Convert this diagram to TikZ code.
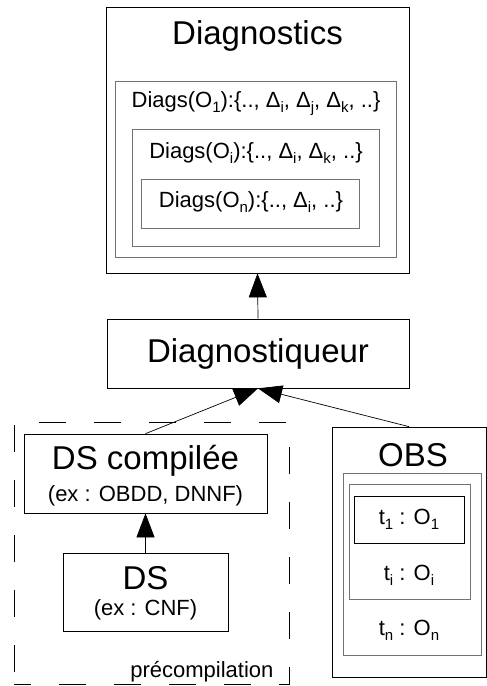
\documentclass[tikz,border=0pt]{standalone}
\usepackage{fontspec}
\setmainfont{Liberation Sans}
\usetikzlibrary{arrows.meta}
\newcommand{\lo}[1]{\raisebox{-5pt}{\fontsize{15}{15}\selectfont #1}}
\tikzset{
    box/.style 2 args={draw, inner sep=0pt, line width=0.7pt, minimum width=#1, minimum height=#2},
    subbox/.style 2 args={box={#1}{#2}, draw=black!55, line width=1pt},
    flow/.style={-{Triangle[length=24pt,width=18pt]}, line width=0.7pt},
    big/.style={font=\fontsize{33}{38}\selectfont},
    small/.style={font=\fontsize{22}{26}\selectfont},
}

\begin{document}
\begin{tikzpicture}[x=1pt,y=-1pt]
    \useasboundingbox (0,0) rectangle (487,686);
    % diagnostics
    \node[box={303pt}{266pt}] (diag) at (257.5,140) {};
    \node[big] (diagt) at (257.5,36) {Diagnostics};
    \node[subbox={281pt}{176pt}] (d1) at (255.5,169) {};
    \node[small] (d1t) at (256,104) {Diags(O\lo{1}):\{.., Δ\lo{i}, Δ\lo{j}, Δ\lo{k}, ..\}};
    \node[subbox={247pt}{117pt}] (d2) at (255.5,187.5) {};
    \node[small] (d2t) at (256,153) {Diags(O\lo{i}):\{.., Δ\lo{i}, Δ\lo{k}, ..\}};
    \node[subbox={218pt}{49pt}] (d3) at (250,203.5) {};
    \node[small] (d3t) at (251,202) {Diags(O\lo{n}):\{.., Δ\lo{i}, ..\}};
    % diagnostiqueur
    \node[box={302pt}{69pt}, big] (diagq) at (258,353.5) {Diagnostiqueur};
    % precompilation
    \node[box={275pt}{262pt}, dash pattern=on 27pt off 28pt, dash phase=10pt] (pre) at (151.5,553) {};
    \node[small, anchor=base east] (pret) at (277,677) {précompilation};
    \node[box={243pt}{79pt}] (dsc) at (145.5,473.5) {};
    \node[big] (dsct) at (145.5,461) {DS compilée};
    \node[small] (dscs) at (145.5,496) {(ex : OBDD, DNNF)};
    \node[box={165pt}{78pt}] (ds) at (145.5,592) {};
    \node[big] (dst) at (145.5,578) {DS};
    \node[small] (dss) at (145.5,610) {(ex : CNF)};
    % observations
    \node[box={154pt}{250pt}] (obs) at (409,552) {};
    \node[big] (obst) at (413,455) {OBS};
    \node[subbox={138pt}{182pt}] (obsa) at (412,564) {};
    \node[subbox={121pt}{115pt}] (obsb) at (409.5,541.5) {};
    \node[box={110pt}{47pt}] (obsc) at (409,519.5) {};
    \node[small] (t1) at (409,519) {t\lo{1} : O\lo{1}};
    \node[small] (ti) at (409,575) {t\lo{i} : O\lo{i}};
    \node[small] (tn) at (409,630) {t\lo{n} : O\lo{n}};
    % arrows
    \draw[flow] (diagq.north) -- (diag.south);
    \draw[flow] (dsc.north) -- (diagq.south);
    \draw[flow] (obs.north) -- (diagq.south);
    \draw[flow] (ds.north) -- (dsc.south);
\end{tikzpicture}
\end{document}
